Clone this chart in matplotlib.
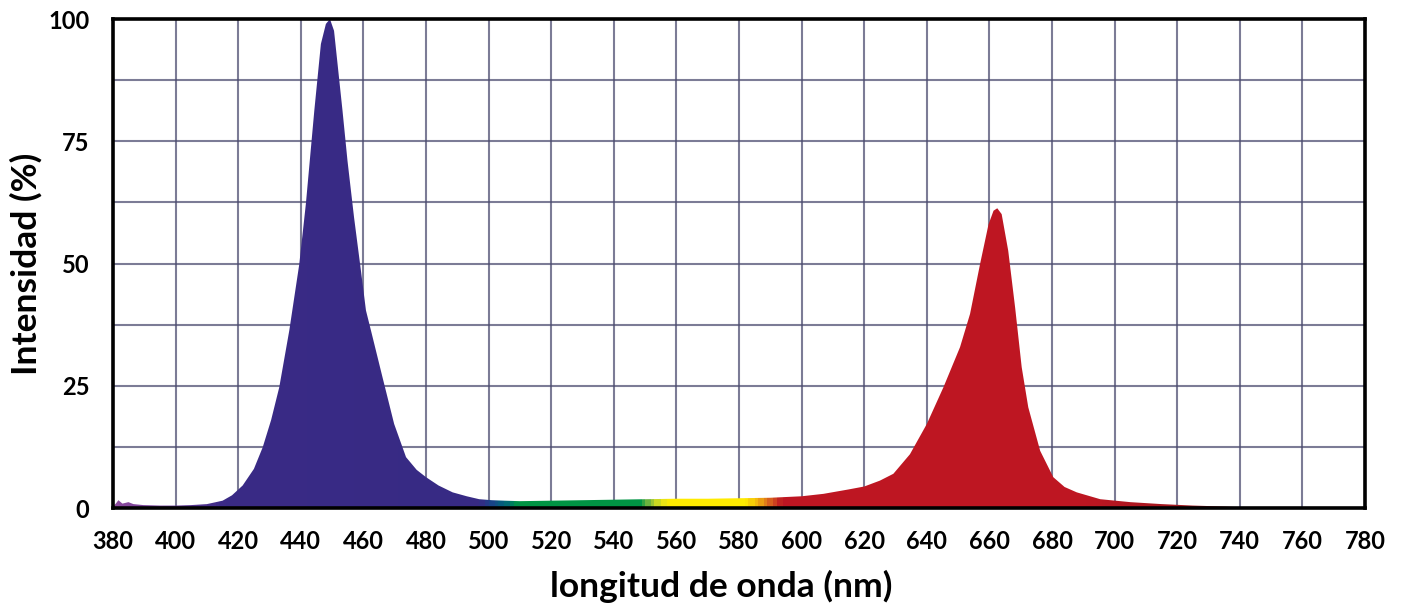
import numpy as np
import matplotlib
matplotlib.use("Agg")
import matplotlib.pyplot as plt
from matplotlib.colors import LinearSegmentedColormap, Normalize

# Spectrum (wavelength in nm, relative intensity in %)
wavelength = [380, 381, 381.7, 383, 384.9, 386.5, 389.7, 395, 400, 405, 410, 415,
              418, 421.4, 425, 427.8, 430.5, 433.1, 436.3, 439.5, 441.6, 444.3,
              446.4, 448, 449.3, 450.6, 453.3, 454.9, 457, 459.2, 460.8, 462.4,
              466.1, 469.8, 473.6, 477, 480, 484, 488.5, 493, 497, 501, 505, 510,
              520, 530, 540, 550, 560, 570, 580, 590, 600, 607, 615, 620, 625,
              629.3, 634.6, 640, 645.3, 650.6, 653.8, 657, 659.7, 661.3, 662.5,
              663.9, 666, 668.2, 670.3, 672.4, 676.2, 680.4, 684, 687.9, 695.4,
              705, 715, 725, 735, 742, 746, 780]
intensity = [0.3, 1.0, 1.6, 0.9, 1.2, 0.8, 0.6, 0.5, 0.5, 0.6, 0.8, 1.5,
             2.6, 4.6, 8.0, 12.4, 18.0, 24.7, 36.3, 49.9, 62.2, 81.3,
             94.9, 99.0, 100.0, 97.6, 81.3, 71.0, 59.4, 48.5, 40.4, 36.3,
             26.7, 17.2, 10.4, 7.8, 6.3, 4.6, 3.2, 2.4, 1.8, 1.6, 1.5, 1.4,
             1.5, 1.6, 1.7, 1.8, 1.9, 1.9, 2.0, 2.1, 2.4, 2.9, 3.8, 4.4, 5.6,
             7.0, 11.0, 17.2, 24.7, 32.9, 39.7, 49.9, 58.0, 60.8, 61.3,
             60.1, 52.6, 41.0, 28.8, 20.6, 11.7, 6.3, 4.3, 3.2, 1.8,
             1.2, 0.8, 0.5, 0.3, 0.1, 0.0, 0.0]

x_ticks = list(range(380, 781, 20))
y_ticks = [0, 25, 50, 75, 100]

# colour of the fill along the spectrum
color_stops = [(380, '#8c4b9e'), (398, '#6a3c96'), (415, '#3a2a86'), (497, '#372a84'),
               (500, '#1d3f8a'), (505, '#00657a'), (509, '#009444'), (548, '#009444'),
               (551, '#6cb33f'), (555, '#e5e31b'), (558, '#ffeb00'), (582, '#ffeb00'),
               (586, '#f2b20f'), (590, '#d9631e'), (594, '#be1622'), (690, '#be1622'),
               (720, '#a3181f'), (745, '#8f1a1f'), (780, '#8f1a1f')]
cmap = LinearSegmentedColormap.from_list(
    'spectrum', [((w - 380) / 400, c) for w, c in color_stops])

plt.rcParams['font.family'] = ['Lato', 'DejaVu Sans']
plt.rcParams['font.weight'] = 'bold'

fig = plt.figure(figsize=(14.08, 6.06), dpi=100)
ax = fig.add_axes([0.0803, 0.1617, 0.8892, 0.8069])

# grid below the fill
ax.set_xticks(x_ticks)
ax.set_yticks(np.arange(0, 101, 12.5))
ax.grid(True, color='#4a4a6e', linewidth=1.5, alpha=0.72, zorder=0)
ax.set_axisbelow(True)

poly = ax.fill_between(wavelength, 0, intensity, facecolor='none',
                       edgecolor='none', zorder=2)
cols = np.arange(380, 780) + 0.5
grad = cmap(Normalize(380, 780)(cols))[np.newaxis, :, :]
img = ax.imshow(grad, extent=[380, 780, 0, 100], aspect='auto',
                interpolation='nearest', origin='lower', zorder=2)
img.set_clip_path(poly.get_paths()[0], transform=ax.transData)

ax.set_xlim(380, 780)
ax.set_ylim(0, 100)

# only label every other horizontal grid line
ax.set_yticklabels([str(int(v)) if v in y_ticks else '' for v in np.arange(0, 101, 12.5)])
ax.tick_params(axis='both', length=0, labelsize=17)
ax.tick_params(axis='x', pad=16)
ax.tick_params(axis='y', pad=17)

for s in ax.spines.values():
    s.set_linewidth(2.6)
    s.set_color('black')
    s.set_zorder(5)

ax.set_xlabel('longitud de onda (nm)', fontsize=25.5, fontweight='bold')
ax.xaxis.set_label_coords(0.486, -0.126)
ax.set_ylabel('Intensidad (%)', fontsize=25.5, fontweight='bold')
ax.yaxis.set_label_coords(-0.056, 0.5)

fig.savefig('out.png', dpi=100)
